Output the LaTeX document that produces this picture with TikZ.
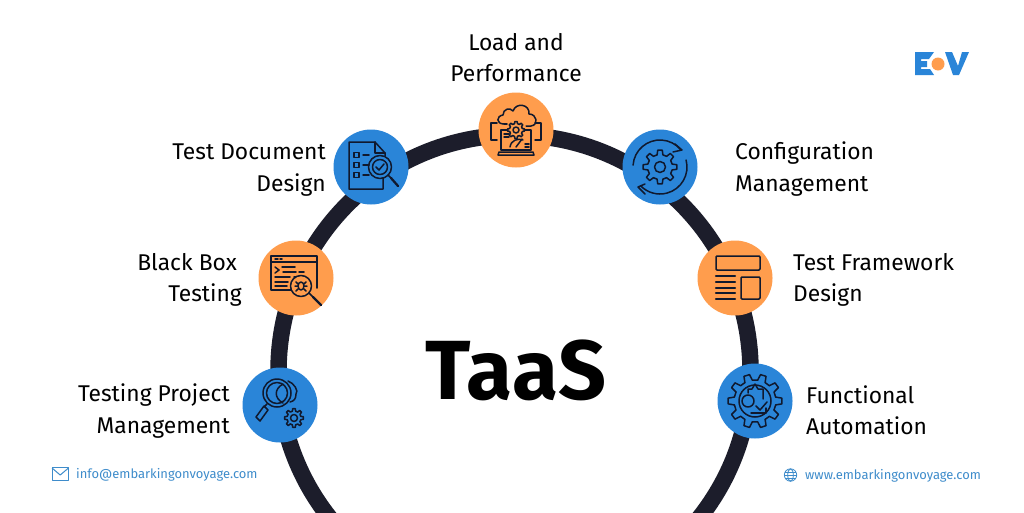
\documentclass[tikz,border=0pt]{standalone}
\usepackage{fontspec}
\setmainfont{Fira Sans}
\definecolor{ringc}{HTML}{1C1D2B}
\definecolor{bluec}{HTML}{2A85D8}
\definecolor{orangec}{HTML}{FF9D4D}
\definecolor{inkc}{HTML}{10192E}
\definecolor{linkc}{HTML}{3E8CCB}
\newcommand\mygear[3]{% ro, ri, teeth
  \pgfmathsetmacro\gstep{360/#3}
  \foreach \gi in {1,...,#3}{
    \pgfmathsetmacro\ga{\gi*\gstep}
    \draw[icon] (\ga-0.30*\gstep:#2) -- (\ga-0.17*\gstep:#1) -- (\ga+0.17*\gstep:#1) -- (\ga+0.30*\gstep:#2) arc[start angle=\ga+0.30*\gstep,end angle=\ga+0.70*\gstep,radius=#2];
  }}
\tikzset{
  hub/.style={circle,minimum size=75pt,inner sep=0pt},
  bluehub/.style={hub,fill=bluec},
  orangehub/.style={hub,fill=orangec},
  icon/.style={draw=inkc,line width=1.5pt,line join=round,line cap=round},
  thick icon/.style={icon,line width=2.3pt},
  caption/.style={font=\fontsize{22.8}{31.4}\selectfont,text=black,inner sep=0pt},
  contact/.style={font=\fontsize{12.95}{15}\selectfont,text=linkc,inner sep=0pt,anchor=base west},
  contact icon/.style={draw=linkc,line width=1pt,line join=round},
}
\begin{document}
\begin{tikzpicture}[x=1pt,y=-1pt]
\useasboundingbox (0,0) rectangle (1024,512);
\fill[white] (0,0) rectangle (1024,512);
\begin{scope}
\clip (0,0) rectangle (1024,512);
\draw[ringc,line width=16.5pt] (514.5,371) circle[radius=236];
\end{scope}

\node[orangehub] (load) at (516,130) {};
\node[bluehub] (config) at (660,167) {};
\node[orangehub] (frame) at (735,278) {};
\node[bluehub] (func) at (755,401) {};
\node[bluehub] (doc) at (371,167) {};
\node[orangehub] (black) at (296,278) {};
\node[bluehub] (project) at (280,405) {};

\node[caption,align=center,anchor=north] (tload) at (516,33) {Load and\\Performance};
\node[caption,align=left,anchor=west] (tconfig) at (735,169) {Configuration\\Management};
\node[caption,align=left,anchor=west] (tframe) at (793,280) {Test Framework\\Design};
\node[caption,align=left,anchor=west] (tfunc) at (806,410.5) {Functional\\Automation};
\node[caption,align=right,anchor=east] (tdoc) at (326,170) {Test Document\\Design};
\node[caption,align=right,anchor=east] (tblack) at (242,280) {Black Box\hspace{5pt}\null\\Testing};
\node[caption,align=right,anchor=east] (tproject) at (230,411) {Testing Project\\Management};
\node[font=\fontsize{84}{84}\selectfont\bfseries,text=black,inner sep=0pt] (taas) at (516,370) {TaaS};

% load icon
\begin{scope}[shift={(516,130)}]
  \draw[icon] (-12,-6) .. controls (-20,-6) and (-20,-14) .. (-13,-15) .. controls (-13,-21) and (-6,-23) .. (-3,-19)
     .. controls (0,-28) and (14,-26) .. (13,-16) .. controls (21,-16) and (23,-5) .. (15,-4) -- (10,-4);
  \draw[icon] (-12,-6) -- (-9,-6);
  \mygear{8.5}{6.5}{8}
  \draw[icon] (0,0) circle[radius=3];
  \draw[icon] (-8,0) -- (-15,0) -- (-15,20) -- (15,20) -- (15,0) -- (8,0);
  \draw[icon] (-17,22) -- (17,22) -- (18,25) -- (-18,25) -- cycle;
  \draw[icon] (-19,-7) -- (-25,-7) -- (-25,10) -- (-19,10);
  \draw[icon] (19,-7) -- (25,-7) -- (25,10) -- (19,10);
  \draw[icon] (-12,4) -- (-7,4) (-12,7) -- (-7,7);
  \draw[icon] (-6,17) .. controls (-5,10) and (2,8) .. (7,10);
  \draw[icon] (0,17) -- (6,9);
  \draw[icon] (9,14) -- (13,14) (9,17) -- (13,17);
\end{scope}

% configuration icon
\begin{scope}[shift={(660,167)}]
  \draw[icon] (-176:27) arc[start angle=-176,end angle=-40,radius=27];
  \draw[icon] (-15:27) arc[start angle=-15,end angle=136,radius=27];
  \draw[icon] (15,-23) -- (22,-17) -- (13,-15);
  \draw[icon] (-15,17) -- (-22,20) -- (-15,27);
  \mygear{17}{12.5}{8}
  \draw[icon] (0,0) circle[radius=5.5];
\end{scope}

% framework icon
\begin{scope}[shift={(735,278)}]
  \draw[icon,rounded corners=1pt] (-19,-22) rectangle (25,-8);
  \draw[icon,rounded corners=1pt] (6,-1) rectangle (25,21);
  \foreach \ly in {-2,4,10,15,21} \draw[thick icon] (-19,\ly) -- (0,\ly);
\end{scope}

% functional icon
\begin{scope}[shift={(755,401)}]
  \mygear{27}{21}{10}
  \draw[icon] (0,0) circle[radius=16];
  \draw[icon] (-7,-8) -- (-7,-12) -- (-3,-12) -- (0,-17) -- (3,-12) -- (8,-12) -- (8,-2);
  \draw[icon] (-4,12) -- (11,12) -- (11,7);
  \draw[icon] (-7,0) circle[radius=6];
  \draw[icon] (1,5) -- (5,9) -- (12,1);
\end{scope}

% document icon
\begin{scope}[shift={(371,167)}]
  \draw[icon] (12,11) -- (12,22) -- (-22,22) -- (-22,-25) -- (4,-25) -- (14,-14) -- (14,-11);
  \draw[icon] (4,-25) -- (4,-14) -- (14,-14);
  \foreach \ly in {-12,-2,8}{
    \draw[icon] (-17,\ly-2.5) rectangle (-12,\ly+2.5);
    \draw[icon] (-8,\ly) -- (-2,\ly);
  }
  \draw[icon] (9,0) circle[radius=11.5];
  \draw[icon] (9,0) circle[radius=7.5];
  \draw[icon] (5,0) -- (8,3) -- (13,-3);
  \draw[icon] (17,8) -- (20,11);
  \draw[thick icon] (20,11) -- (27,19);
\end{scope}

% black box icon
\begin{scope}[shift={(296,278)}]
  \draw[icon] (-5,12) -- (-25,12) -- (-25,-22) -- (21,-22) -- (21,10);
  \draw[icon] (-25,-16) -- (21,-16);
  \draw[icon] (-21,-19) -- (-18,-19) (-16,-19) -- (-14,-19);
  \draw[icon] (-21,-11) -- (-17,-8) -- (-21,-5);
  \draw[icon] (-14,-11) -- (-1,-11) (-13,-6) -- (0,-6) (3,-6) -- (8,-6) (-21,-1) -- (-6,-1) (-2,-1) -- (4,-1) (-21,4) -- (-8,4) (-21,8) -- (-9,8);
  \draw[icon,fill=orangec] (5,8) circle[radius=10.5];
  \draw[icon] (5,8) ellipse[x radius=3,y radius=4];
  \draw[icon] (0,4) -- (2,6) (10,4) -- (8,6) (-1,8) -- (2,8) (11,8) -- (8,8) (0,13) -- (2,11) (10,13) -- (8,11);
  \draw[icon] (13,15) -- (17,19);
  \draw[thick icon] (17,19) -- (25,27);
\end{scope}

% project icon
\begin{scope}[shift={(280,405)}]
  \draw[icon] (-3,-12) circle[radius=14];
  \draw[icon] (-3,-12) circle[radius=10.5];
  \draw[icon] (-13,-1) -- (-16,2);
  \draw[icon] (-16,1) -- (-24,12) -- (-20,16) -- (-12,5) -- cycle;
  \draw[icon] (3,-21) .. controls (-6,-16) and (-6,-7) .. (3,-2);
  \draw[icon] (8,-24) .. controls (14,-22) and (19,-14) .. (16,-11) .. controls (16,-6) and (14,-4) .. (10,-3);
  \begin{scope}[shift={(14,13)}]
    \mygear{9.5}{7}{8}
    \draw[icon] (0,0) circle[radius=3.5];
  \end{scope}
\end{scope}

% logo
\fill[bluec] (915,52) -- (934,52) -- (929,59) -- (921,59) -- (921,61) -- (927,61) -- (927,67) -- (921,67) -- (921,69) -- (930,69) -- (934,75) -- (915,75) -- cycle;
\fill[bluec] (945,52) -- (952,52) -- (958,66) -- (962,52) -- (969,52) -- (959,75) -- (953,75) -- cycle;
\node[circle,fill=orangec,minimum size=13pt,inner sep=0pt] (logodot) at (938,64) {};

% contacts
\draw[contact icon] (52,467.5) rectangle (68.5,480);
\draw[contact icon] (52,468) -- (60.2,475) -- (68.5,468);
\node[contact] (mail) at (76,478) {info@embarkingonvoyage.com};
\begin{scope}[shift={(790.5,475)}]
  \draw[contact icon,line width=.8pt] (0,0) circle[radius=6.2];
  \draw[contact icon,line width=.8pt] (0,0) ellipse[x radius=2.8,y radius=6.2];
  \draw[contact icon,line width=.8pt] (-6.2,0) -- (6.2,0) (-5.3,-3) -- (5.3,-3) (-5.3,3) -- (5.3,3);
\end{scope}
\node[contact] (web) at (805,479) {www.embarkingonvoyage.com};
\end{tikzpicture}
\end{document}
